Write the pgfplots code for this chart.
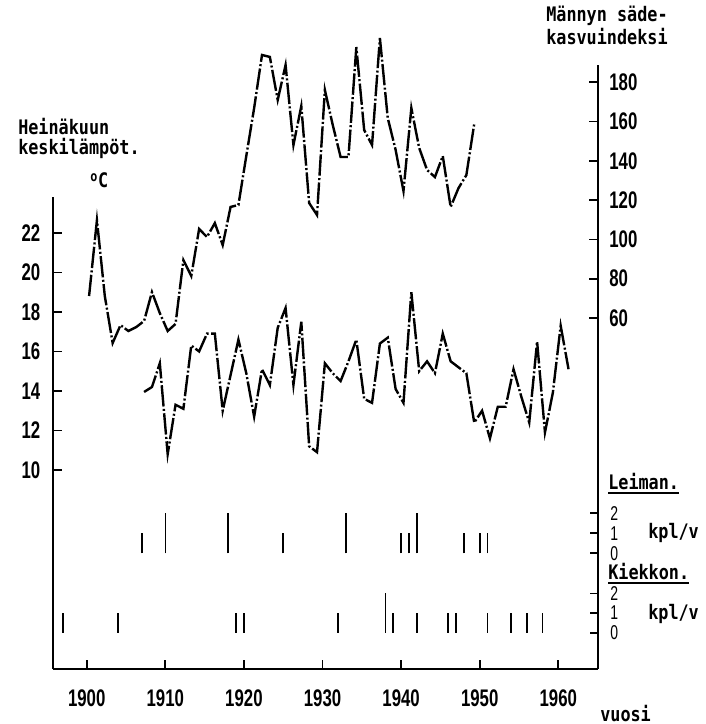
\documentclass[border=0pt]{standalone}
\usepackage{pgfplots}
\pgfplotsset{compat=1.18}
\usepackage{pgfplotstable}
\usepackage{fontspec}
\setmainfont{Liberation Sans}
\newfontfamily\numfont[FakeStretch=0.70]{Liberation Sans}
\newfontfamily\letfont[FakeStretch=0.84]{DejaVu Sans Mono}

\pgfplotstableread{
year i
1900 71.2
1901 109.8
1902 71.2
1903 47.3
1904 56.4
1905 53.4
1906 55.4
1907 58.5
1908 73.2
1909 62.5
1910 53.4
1911 57.0
1912 89.5
1913 81.4
1914 105.3
1915 101.2
1916 108.3
1917 97.1
1918 116.5
1919 117.5
1920 142.4
1921 166.8
1922 193.8
1923 192.8
1924 170.9
1925 188.7
1926 148.0
1927 167.8
1928 118.5
1929 112.4
1930 176.0
1931 158.2
1932 141.9
1933 141.9
1934 197.8
1935 155.6
1936 148.0
1937 202.4
1938 161.7
1939 145.5
1940 124.6
1941 166.8
1942 146.5
1943 135.3
1944 131.7
1945 142.4
1946 116.5
1947 126.1
1948 132.7
1949 158.7
}\idx

\pgfplotstableread{
year t
1907 13.95
1908 14.2
1909 15.4
1910 10.8
1911 13.3
1912 13.1
1913 16.3
1914 16.0
1915 16.9
1916 16.9
1917 13.0
1918 14.8
1919 16.6
1920 14.9
1921 12.7
1922 15.1
1923 14.3
1924 17.2
1925 18.2
1926 14.3
1927 17.5
1928 11.2
1929 10.9
1930 15.4
1931 14.9
1932 14.5
1933 15.5
1934 16.6
1935 13.6
1936 13.4
1937 16.4
1938 16.7
1939 14.1
1940 13.4
1941 19.0
1942 15.0
1943 15.5
1944 14.9
1945 16.9
1946 15.5
1947 15.2
1948 14.9
1949 12.4
1950 13.0
1951 11.6
1952 13.2
1953 13.2
1954 15.1
1955 13.7
1956 12.4
1957 16.5
1958 11.9
1959 13.9
1960 17.3
1961 15.1
}\temp

\pgfplotstableread{
year n
1907 1
1910 2
1918 2
1925 1
1933 2
1940 1
1941 1
1942 2
1948 1
1950 1
1951 1
}\leiman

\pgfplotstableread{
year n
1897 1
1904 1
1919 1
1920 1
1932 1
1938 2
1939 1
1942 1
1946 1
1947 1
1951 1
1954 1
1956 1
1958 1
}\kiekko

\pgfplotsset{
  common/.style={
    scale only axis, anchor=south west,
    width=408.75pt,
    xmin=1895.71, xmax=1965.05,
    clip=false,
    tick align=inside, major tick length=7pt,
    tick style={line width=1.3pt, black},
    tick label style={font=\numfont\bfseries\fontsize{18}{18}\selectfont},
  },
  mini/.style={
    axis x line=none, axis y line*=right,
    y axis line style={draw=none},
    ytick={0,1,2}, yticklabels={0,1,2},
    major tick length=6pt,
    yticklabel style={xshift=9pt, inner sep=0pt, font=\numfont\fontsize{15}{15}\selectfont},
  },
  dataline/.style={black, line width=1.8pt, line cap=butt, line join=miter,
    dash pattern=on 16pt off 1.8pt on 1.5pt off 1.8pt, no marks},
}

\begin{document}
\begin{tikzpicture}
% temperature axis (left + bottom)
\begin{axis}[common, at={(0,0)},
  height=354pt, ymin=-0.076, ymax=23.82,
  axis x line*=bottom, axis y line*=left,
  axis line style={-, line width=1.4pt},
  xtick={1900,1910,1920,1930,1940,1950,1960},
  xticklabels={1900,1910,1920,1930,1940,1950,1960},
  ytick={10,12,14,16,18,20,22},
  yticklabels={10,12,14,16,18,20,22},
  xticklabel style={yshift=-12pt},
  yticklabel style={xshift=-6pt},
]
\addplot[dataline] table[x expr=\thisrow{year}+0.3, y=t] {\temp};
\end{axis}
% index axis (right)
\begin{axis}[common, at={(0,0)},
  height=453pt, ymin=-118.5, ymax=188.7,
  axis x line=none, axis y line*=right,
  axis line style={-, line width=1.6pt},
  ytick={60,80,100,120,140,160,180},
  yticklabels={60,80,100,120,140,160,180},
  yticklabel style={xshift=5pt},
]
\addplot[dataline] table[x expr=\thisrow{year}+0.3, y=i] {\idx};
\end{axis}
% Leiman
\begin{axis}[common, mini, at={(0,86.8pt)},
  height=30pt, ymin=0, ymax=2,
]
\addplot[ycomb, no marks, black, line width=1.2pt] table[x=year, y=n] {\leiman};
\end{axis}
% Kiekkon
\begin{axis}[common, mini, at={(0,27.2pt)},
  height=29.5pt, ymin=0, ymax=2,
]
\addplot[ycomb, no marks, black, line width=1.2pt] table[x=year, y=n] {\kiekko};
\end{axis}
% texts in pixel coordinates of the reference
\begin{scope}[x=0.75pt, y=-0.75pt, shift={(-39.75pt,501.75pt)}]
\path[use as bounding box] (0,0) rectangle (706,724);
\tikzset{lab/.style={inner sep=0pt, font=\letfont\bfseries\fontsize{15}{15}\selectfont}}
\node[lab, anchor=base west] at (18,135) {Heinäkuun};
\node[lab, anchor=base west] at (18,155) {keskilämpöt.};
\node[lab, anchor=base west] at (90,188) {\textsuperscript{o}C};
\node[lab, anchor=base west] at (546,22) {Männyn säde-};
\node[lab, anchor=base west] at (546,45) {kasvuindeksi};
\node[lab, anchor=base west] (L) at (608,490) {Leiman.};
\draw[line width=1.5pt] ([yshift=-2.5pt]L.base west) -- ([yshift=-2.5pt]L.base east);
\node[lab, anchor=west] at (648,533) {kpl/v};
\node[lab, anchor=base west] (K) at (608,580) {Kiekkon.};
\draw[line width=1.5pt] ([yshift=-2.5pt]K.base west) -- ([yshift=-2.5pt]K.base east);
\node[lab, anchor=west] at (648,614) {kpl/v};
\node[lab, anchor=base west] at (600,721) {vuosi};
\end{scope}
\end{tikzpicture}
\end{document}
